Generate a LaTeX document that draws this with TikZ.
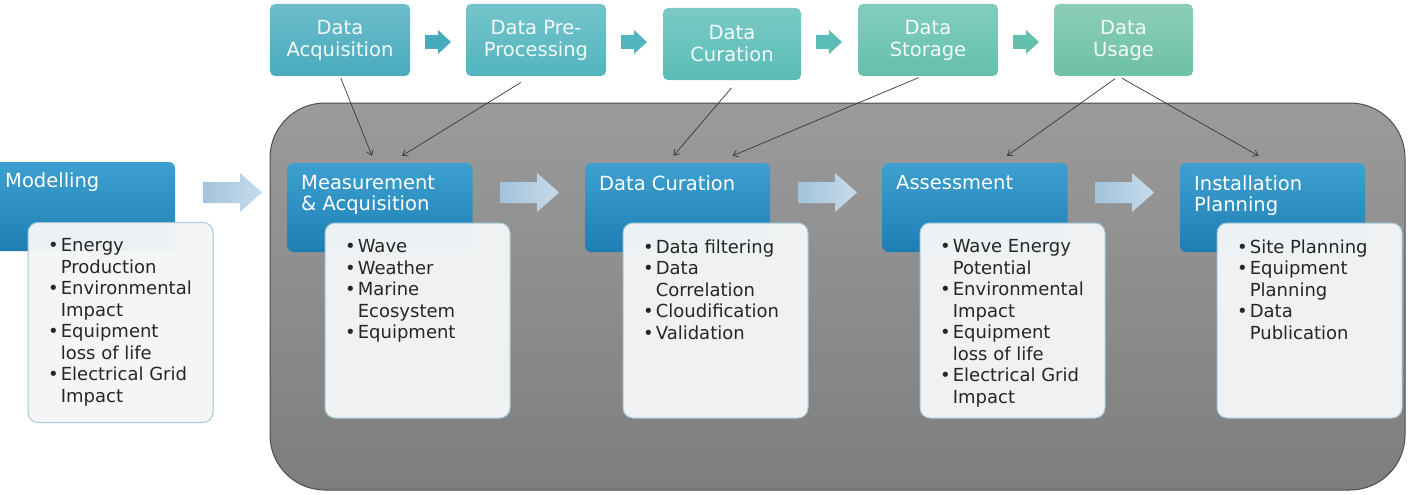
\documentclass[tikz,border=0pt]{standalone}
\usepackage{fontspec}
\setmainfont{DejaVu Sans}
\usetikzlibrary{arrows.meta,calc}

\definecolor{tealA}{RGB}{72,171,189}
\definecolor{tealB}{RGB}{82,181,190}
\definecolor{tealC}{RGB}{90,188,182}
\definecolor{tealD}{RGB}{100,192,172}
\definecolor{tealE}{RGB}{110,193,163}
\definecolor{blueTop}{RGB}{62,160,208}
\definecolor{blueBot}{RGB}{30,126,180}
\definecolor{paleArrow}{RGB}{162,195,220}
\definecolor{greyTop}{RGB}{155,155,155}
\definecolor{greyBot}{RGB}{126,126,126}
\definecolor{listFill}{RGB}{243,245,246}
\definecolor{listEdge}{RGB}{165,200,216}
\definecolor{linkGrey}{RGB}{55,55,55}

\def\blockarrow[#1](#2,#3)#4#5#6#7{\path[#1] (#2,#3) ++(0,-#5) -- ++(#4-#7,0) -- ++(0,#5-#6) -- (#2+#4,#3) -- ++(-#7,#6) -- ++(0,#5-#6) -- ++(-#4+#7,0) -- cycle;}
\newcommand\bpt{\textbullet\kern2pt}
\newcommand\bcont{\hphantom{\textbullet\kern2pt}}

\tikzset{
	topstep/.style={rounded corners=5pt, minimum width=140pt, minimum height=72pt, inner sep=0pt, text=white, text opacity=0.92, align=center, font=\fontsize{19.5}{22}\selectfont},
	stagebox/.style={rounded corners=6pt, top color=blueTop, bottom color=blueBot, minimum width=185pt, minimum height=89pt, inner sep=0pt},
	stagetext/.style={anchor=north west, inner sep=0pt, text=white, align=left, font=\fontsize{19.5}{21}\selectfont},
	listbox/.style={rounded corners=10pt, fill=listFill, draw=listEdge, line width=1pt, fill opacity=0.97, minimum width=185pt, minimum height=195pt, inner sep=0pt},
	listtext/.style={anchor=north west, inner sep=0pt, text=black!85, align=left, font=\fontsize{18}{21.5}\selectfont},
	link/.style={draw=linkGrey, line width=0.7pt, -{Straight Barb[length=5pt,width=7pt]}},
}

\begin{document}
\begin{tikzpicture}[x=1pt,y=-1pt]
			%%%%% START %%%%%
			\useasboundingbox (0,0) rectangle (1416,495);
			
			\path[draw=black!70, line width=1pt, rounded corners=55pt, top color=greyTop, bottom color=greyBot] (270,103) rectangle (1405,490);
			
			\node[topstep, top color=tealA!80!white, bottom color=tealA] (acq) at (340,40) {Data\\Acquisition};
			\node[topstep, top color=tealB!80!white, bottom color=tealB] (prep) at (536,40) {Data Pre-\\Processing};
			\node[topstep, minimum width=138pt, top color=tealC!80!white, bottom color=tealC] (tcur) at (732,44) {Data\\Curation};
			\node[topstep, top color=tealD!80!white, bottom color=tealD] (stor) at (928,40) {Data\\Storage};
			\node[topstep, minimum width=139pt, top color=tealE!80!white, bottom color=tealE] (usage) at (1123.5,40) {Data\\Usage};
			
			\blockarrow[fill=tealA](425,42){26}{7}{12}{13}
			\blockarrow[fill=tealB](621,42){26}{7}{12}{13}
			\blockarrow[fill=tealC](816,42){26}{7}{12}{13}
			\blockarrow[fill=tealD](1013,42){26}{7}{12}{13}
			
			\node[stagebox, minimum width=190pt] (mod) at (80,206.5) {};
			\node[stagebox] (meas) at (380,207.5) {};
			\node[stagebox] (dcur) at (677.5,207.5) {};
			\node[stagebox] (asmt) at (975,207.5) {};
			\node[stagebox] (inst) at (1272.5,207.5) {};
			
			\node[stagetext] (modtxt) at (5,172.5) {Modelling};
			\node[stagetext] (meastxt) at (301,175.5) {Measurement\\\& Acquisition};
			\node[stagetext] (dcurtxt) at (599,175.5) {Data Curation};
			\node[stagetext] (asmttxt) at (896,175.5) {Assessment};
			\node[stagetext] (insttxt) at (1194,175.5) {Installation\\Planning};
			
			\blockarrow[left color=paleArrow, right color=paleArrow!60!white](203,192.5){59}{10.5}{19.5}{22}
			\blockarrow[left color=paleArrow, right color=paleArrow!60!white](500,192.5){59}{10.5}{19.5}{22}
			\blockarrow[left color=paleArrow, right color=paleArrow!60!white](798,192.5){59}{10.5}{19.5}{22}
			\blockarrow[left color=paleArrow, right color=paleArrow!60!white](1095,192.5){59}{10.5}{19.5}{22}
			
			\node[listbox, minimum height=200pt] (modlist) at (120.5,322.5) {};
			\node[listbox] (measlist) at (417.5,320.5) {};
			\node[listbox] (curlist) at (715.5,320.5) {};
			\node[listbox] (asmtlist) at (1012.5,320.5) {};
			\node[listbox] (instlist) at (1309.5,320.5) {};
			
			\node[listtext] (modpts) at (48,238.5) {\bpt Energy\\\bcont Production\\\bpt Environmental\\\bcont Impact\\\bpt Equipment\\\bcont loss of life\\\bpt Electrical Grid\\\bcont Impact};
			\node[listtext] (measpts) at (345,239.5) {\bpt Wave\\\bpt Weather\\\bpt Marine\\\bcont Ecosystem\\\bpt Equipment};
			\node[listtext] (curpts) at (643,239.5) {\bpt Data filtering\\\bpt Data\\\bcont Correlation\\\bpt Cloudification\\\bpt Validation};
			\node[listtext] (asmtpts) at (940,239.5) {\bpt Wave Energy\\\bcont Potential\\\bpt Environmental\\\bcont Impact\\\bpt Equipment\\\bcont loss of life\\\bpt Electrical Grid\\\bcont Impact};
			\node[listtext] (instpts) at (1237,239.5) {\bpt Site Planning\\\bpt Equipment\\\bcont Planning\\\bpt Data\\\bcont Publication};
			
			% data flow onto the stages
			\draw[link, shorten <=2pt] (acq.south) -- ([xshift=-8pt,yshift=7pt]meas.north);
			\draw[link, shorten <=12pt] ([xshift=-5pt]prep.south) -- ([xshift=22pt,yshift=7pt]meas.north);
			\draw[link, shorten <=10pt] ([xshift=6pt]tcur.south) -- ([xshift=-4pt,yshift=7pt]dcur.north);
			\draw[link, shorten <=4pt] ([xshift=-6pt]stor.south) -- ([xshift=55pt,yshift=7pt]dcur.north);
			\draw[link, shorten <=4pt] ([xshift=-5pt]usage.south) -- ([xshift=32pt,yshift=7pt]asmt.north);
			\draw[link, shorten <=4pt] ([xshift=-5pt]usage.south) -- ([xshift=-14pt,yshift=7pt]inst.north);
			
			%%%%% END %%%%%
\end{tikzpicture}
\end{document}
